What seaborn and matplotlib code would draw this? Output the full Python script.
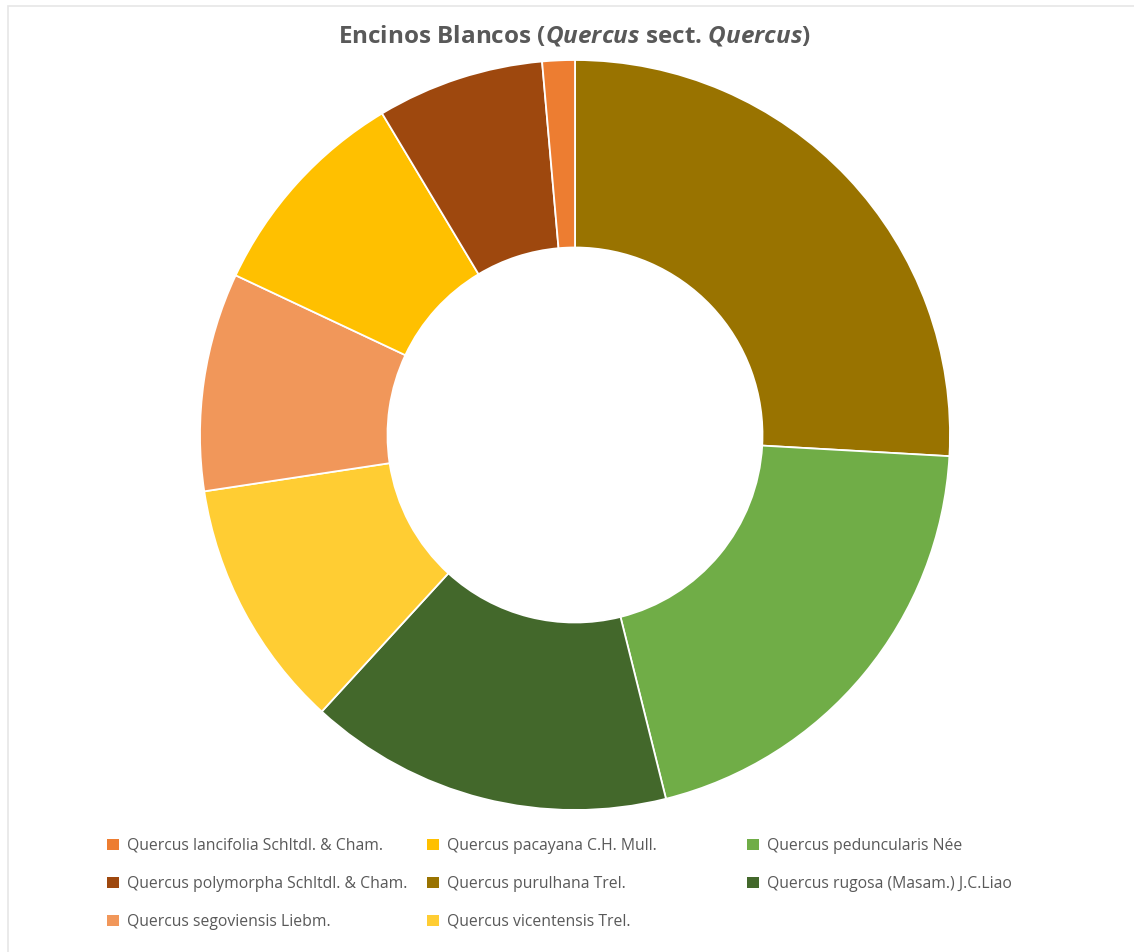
import numpy as np
import matplotlib.pyplot as plt
import matplotlib.patches as mpatches
import seaborn as sns

sns.set_theme(style="white")
plt.rcParams['font.family'] = ['Open Sans', 'DejaVu Sans']
plt.rcParams['mathtext.fontset'] = 'custom'
plt.rcParams['mathtext.it'] = 'Open Sans:italic:bold'
plt.rcParams['mathtext.rm'] = 'Open Sans:bold'

# Data (share of records), in drawing order clockwise from 12 o'clock
species = [
    "Quercus purulhana Trel.",
    "Quercus peduncularis Née",
    "Quercus rugosa (Masam.) J.C.Liao",
    "Quercus vicentensis Trel.",
    "Quercus segoviensis Liebm.",
    "Quercus pacayana C.H. Mull.",
    "Quercus polymorpha Schltdl. & Cham.",
    "Quercus lancifolia Schltdl. & Cham.",
]
values = [25.9, 20.2, 15.7, 10.8, 9.4, 9.4, 7.2, 1.4]
colors = ["#997300", "#70AD47", "#43682B", "#FFCD33",
          "#F1975A", "#FFC000", "#9E480E", "#ED7D31"]

# legend columns (row-wise order as in the chart)
legend_cols = [
    ["Quercus lancifolia Schltdl. & Cham.",
     "Quercus polymorpha Schltdl. & Cham.",
     "Quercus segoviensis Liebm."],
    ["Quercus pacayana C.H. Mull.",
     "Quercus purulhana Trel.",
     "Quercus vicentensis Trel."],
    ["Quercus peduncularis Née",
     "Quercus rugosa (Masam.) J.C.Liao"],
]

W, H = 1134, 952
fig = plt.figure(figsize=(W / 100, H / 100), dpi=100)

# light frame like the spreadsheet chart area
fig.patches.append(mpatches.Rectangle((8 / W, -0.1), 1.2, 1 - 6 / H + 0.1,
                                      transform=fig.transFigure, fill=False,
                                      edgecolor="#E6E6E6", linewidth=1.2))

cx, cy, r = 575, 435, 375
ax = fig.add_axes([(cx - r) / W, (H - cy - r) / H, 2 * r / W, 2 * r / H])
ax.pie(values, colors=colors, startangle=90, counterclock=False,
       wedgeprops=dict(width=0.5, edgecolor="white", linewidth=1.3))
ax.set_xlim(-1, 1)
ax.set_ylim(-1, 1)
ax.set_aspect("equal")
ax.axis("off")

fig.text(574 / W, 1 - 36 / H,
         r"Encinos Blancos ($\mathit{Quercus}$ sect. $\mathit{Quercus}$)",
         ha="center", va="center", fontsize=17.5, fontweight="bold", color="#595959")

color_of = dict(zip(species, colors))
col_x = [107, 427, 747]
for x0, labels in zip(col_x, legend_cols):
    handles = [mpatches.Patch(facecolor=color_of[l], edgecolor="none", label=l) for l in labels]
    leg = fig.legend(handles=handles, loc="upper left",
                     bbox_to_anchor=(x0 / W, 1 - 838 / H),
                     frameon=False, fontsize=11.3, handlelength=0.75, handleheight=0.75,
                     handletextpad=0.55, labelspacing=1.4, borderaxespad=0, borderpad=0)
    for t in leg.get_texts():
        t.set_color("#595959")

fig.savefig("out.png", dpi=100, facecolor="white")
